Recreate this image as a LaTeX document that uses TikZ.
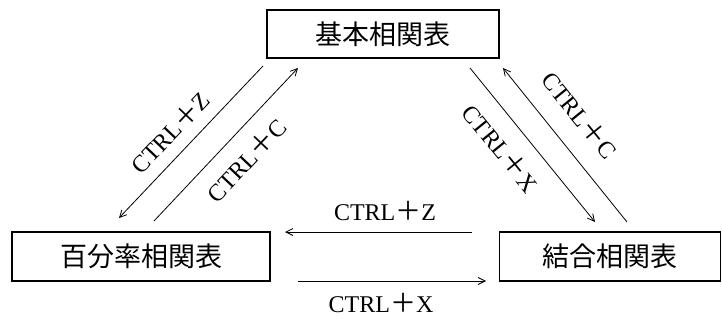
\documentclass[tikz,border=0pt]{standalone}
\usepackage{fontspec}
\newfontfamily\cjk{Noto Sans CJK JP}
\newfontfamily\lblfont{Liberation Serif}
\newcommand{\plusw}{{\cjk\fontsize{26}{28}\selectfont ＋}}
\usetikzlibrary{arrows.meta}
\begin{document}
\begin{tikzpicture}[x=1pt,y=-1pt,
  tbl/.style={draw,line width=1.2pt,inner sep=0pt,font=\cjk\fontsize{27}{30}\selectfont},
  conn/.style={line width=0.8pt},
  arr/.style={conn,-{Straight Barb[length=7pt,width=7pt,line width=0.8pt]}},
  lbl/.style={inner sep=0pt,font=\lblfont\fontsize{24}{28}\selectfont}]
\useasboundingbox (0,0) rectangle (722,321);
\node[tbl,minimum width=232pt,minimum height=48pt] (kihon) at (383,34) {基本相関表};
\node[tbl,minimum width=258pt,minimum height=49pt] (hyaku) at (141,256.5) {百分率相関表};
\node[tbl,minimum width=221pt,minimum height=49pt] (ketsu) at (610,256.5) {結合相関表};
% left pair
\coordinate (lz1) at (263,66); \coordinate (lz2) at (119,218);
\coordinate (lc1) at (154,221); \coordinate (lc2) at (298,68);
\draw[arr] (lz1) -- (lz2);
\draw[arr] (lc1) -- (lc2);
% right pair
\coordinate (rx1) at (470,68); \coordinate (rx2) at (595,222);
\coordinate (rc1) at (627,222); \coordinate (rc2) at (503,68);
\draw[arr] (rx1) -- (rx2);
\draw[arr] (rc1) -- (rc2);
% horizontal
\coordinate (hz1) at (472,232); \coordinate (hz2) at (285,232);
\coordinate (hx1) at (298,281); \coordinate (hx2) at (486,281);
\draw[arr] (hz1) -- (hz2);
\draw[arr] (hx1) -- (hx2);
% labels
\node[lbl,rotate=46.5] (lzl) at (170,132) {CTRL\plusw Z};
\node[lbl,rotate=46.5] (lcl) at (246,160) {CTRL\plusw C};
\node[lbl,rotate=-51] (rxl) at (501,148) {CTRL\plusw X};
\node[lbl,rotate=-51] (rcl) at (580,115) {CTRL\plusw C};
\node[lbl] (hzl) at (385,211) {CTRL\plusw Z};
\node[lbl] (hxl) at (381,303) {CTRL\plusw X};
\end{tikzpicture}
\end{document}
